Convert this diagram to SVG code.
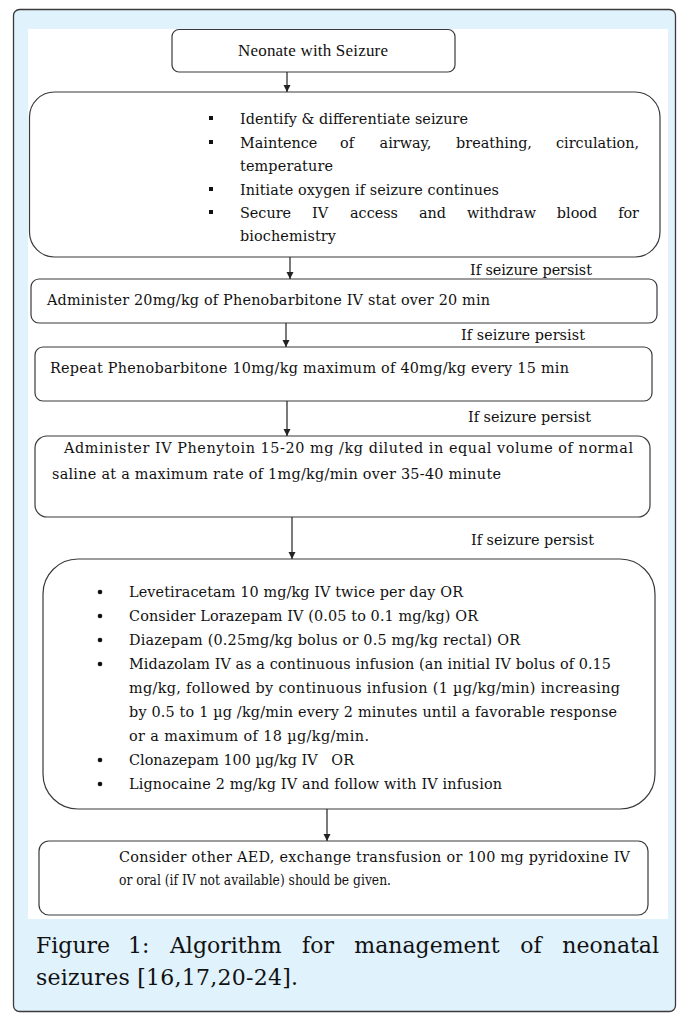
<svg xmlns="http://www.w3.org/2000/svg" width="677" height="1015" viewBox="0 0 677 1015">
<style>
.box{fill:#ffffff;stroke:#3a3a3a;stroke-width:1.2}
.t{font-family:"DejaVu Serif","Liberation Serif",serif;font-size:14.4px;fill:#111111}
.tr{font-family:"Liberation Serif","Times New Roman",serif;font-size:17px;fill:#111111}
.cap{font-family:"DejaVu Serif","Liberation Serif",serif;font-size:22px;fill:#111111}
.e{text-anchor:end}
.m{text-anchor:middle}
.pre{white-space:pre}
.sq{fill:#111111}
.conn line{stroke:#222;stroke-width:1.2;fill:none}
</style>
<defs>
<marker id="ah" markerWidth="8" markerHeight="8" refX="7" refY="3.5" orient="auto" markerUnits="userSpaceOnUse">
<path d="M0,0 L7,3.5 L0,7 Z" fill="#222"/>
</marker>
</defs>
<rect x="13.5" y="9.5" width="662" height="1002" rx="6" fill="#e0f2fc" stroke="#3a3a3a" stroke-width="1.3"/>
<rect x="28" y="29" width="640" height="890" fill="#ffffff"/>
<g id="n1">
<rect class="box" x="172" y="29.5" width="283" height="42.5" rx="7"/>
<text class="tr" x="238" y="55.5" textLength="150">Neonate with Seizure</text>
</g>
<g id="n2">
<rect class="box" x="29.5" y="92" width="630.5" height="165" rx="25"/>
<rect class="sq" x="209" y="116" width="4" height="4"/>
<rect class="sq" x="209" y="140" width="4" height="4"/>
<rect class="sq" x="209" y="187" width="4" height="4"/>
<rect class="sq" x="209" y="210" width="4" height="4"/>
<text class="t" x="240" y="124" textLength="228">Identify &amp; differentiate seizure</text>
<text class="t" x="240" y="148">Maintence</text>
<text class="t m" x="347" y="148">of</text>
<text class="t m" x="405.5" y="148">airway,</text>
<text class="t m" x="494" y="148">breathing,</text>
<text class="t e" x="639" y="148">circulation,</text>
<text class="t" x="240" y="171" textLength="93">temperature</text>
<text class="t" x="240" y="195" textLength="259">Initiate oxygen if seizure continues</text>
<text class="t" x="240" y="218">Secure</text>
<text class="t m" x="320" y="218">IV</text>
<text class="t m" x="374" y="218">access</text>
<text class="t m" x="432.5" y="218">and</text>
<text class="t m" x="501.5" y="218">withdraw</text>
<text class="t m" x="577" y="218">blood</text>
<text class="t e" x="639" y="218">for</text>
<text class="t" x="240" y="241" textLength="96">biochemistry</text>
</g>
<g id="l1"><text class="t" x="470" y="275" textLength="122">If seizure persist</text></g>
<g id="n3">
<rect class="box" x="31" y="279" width="626" height="44" rx="8"/>
<text class="t" x="47" y="305" textLength="443">Administer 20mg/kg of Phenobarbitone IV stat over 20 min</text>
</g>
<g id="l2"><text class="t" x="461" y="339.5" textLength="124">If seizure persist</text></g>
<g id="n4">
<rect class="box" x="35" y="347" width="617" height="54" rx="8"/>
<text class="t" x="50" y="373" textLength="519">Repeat Phenobarbitone 10mg/kg maximum of 40mg/kg every 15 min</text>
</g>
<g id="l3"><text class="t" x="468" y="421.5" textLength="123">If seizure persist</text></g>
<g id="n5">
<rect class="box" x="35" y="436" width="615" height="81" rx="12"/>
<text class="t" x="64" y="453" textLength="569">Administer IV Phenytoin 15-20 mg /kg diluted in equal volume of normal</text>
<text class="t" x="52" y="479" textLength="449">saline at a maximum rate of 1mg/kg/min over 35-40 minute</text>
</g>
<g id="l4"><text class="t" x="471" y="544.5" textLength="123">If seizure persist</text></g>
<g id="n6">
<rect class="box" x="43" y="559" width="612" height="250" rx="35"/>
<circle class="sq" cx="100" cy="592" r="2.3"/>
<circle class="sq" cx="100" cy="616" r="2.3"/>
<circle class="sq" cx="100" cy="640" r="2.3"/>
<circle class="sq" cx="100" cy="664" r="2.3"/>
<circle class="sq" cx="100" cy="760" r="2.3"/>
<circle class="sq" cx="100" cy="784" r="2.3"/>
<text class="t" x="129" y="596.5" textLength="334">Levetiracetam 10 mg/kg IV twice per day OR</text>
<text class="t" x="129" y="620.5" textLength="349">Consider Lorazepam IV (0.05 to 0.1 mg/kg) OR</text>
<text class="t" x="129" y="644.5" textLength="391">Diazepam (0.25mg/kg bolus or 0.5 mg/kg rectal) OR</text>
<text class="t" x="129" y="668.5" textLength="482">Midazolam IV as a continuous infusion (an initial IV bolus of 0.15</text>
<text class="t" x="129" y="692.5" textLength="491">mg/kg, followed by continuous infusion (1 µg/kg/min) increasing</text>
<text class="t" x="129" y="716.5" textLength="488">by 0.5 to 1 µg /kg/min every 2 minutes until a favorable response</text>
<text class="t" x="129" y="740.5" textLength="240">or a maximum of 18 µg/kg/min.</text>
<text class="t pre" x="129" y="764.5" textLength="225">Clonazepam 100 µg/kg IV   OR</text>
<text class="t" x="129" y="788.5" textLength="373">Lignocaine 2 mg/kg IV and follow with IV infusion</text>
</g>
<g id="n7">
<rect class="box" x="39" y="841" width="609" height="74" rx="10"/>
<text class="t" x="119" y="862" textLength="511">Consider other AED, exchange transfusion or 100 mg pyridoxine IV</text>
<text class="t" x="119" y="885" textLength="272" lengthAdjust="spacingAndGlyphs">or oral (if IV not available) should be given.</text>
</g>
<g id="connectors" class="conn">
<line x1="287" y1="72" x2="287" y2="92" marker-end="url(#ah)"/>
<line x1="290" y1="257" x2="290" y2="279" marker-end="url(#ah)"/>
<line x1="286" y1="323" x2="286" y2="347" marker-end="url(#ah)"/>
<line x1="287" y1="401" x2="287" y2="436" marker-end="url(#ah)"/>
<line x1="292" y1="517" x2="292" y2="559" marker-end="url(#ah)"/>
<line x1="327" y1="809" x2="327" y2="841" marker-end="url(#ah)"/>
</g>
<g id="caption">
<text class="cap" x="36" y="953">Figure</text>
<text class="cap m" x="138.7" y="953">1:</text>
<text class="cap m" x="225.8" y="953">Algorithm</text>
<text class="cap m" x="318" y="953">for</text>
<text class="cap m" x="427" y="953">management</text>
<text class="cap m" x="531" y="953">of</text>
<text class="cap e" x="659" y="953">neonatal</text>
<text class="cap" x="36" y="985" textLength="262">seizures [16,17,20-24].</text>
</g>
</svg>
